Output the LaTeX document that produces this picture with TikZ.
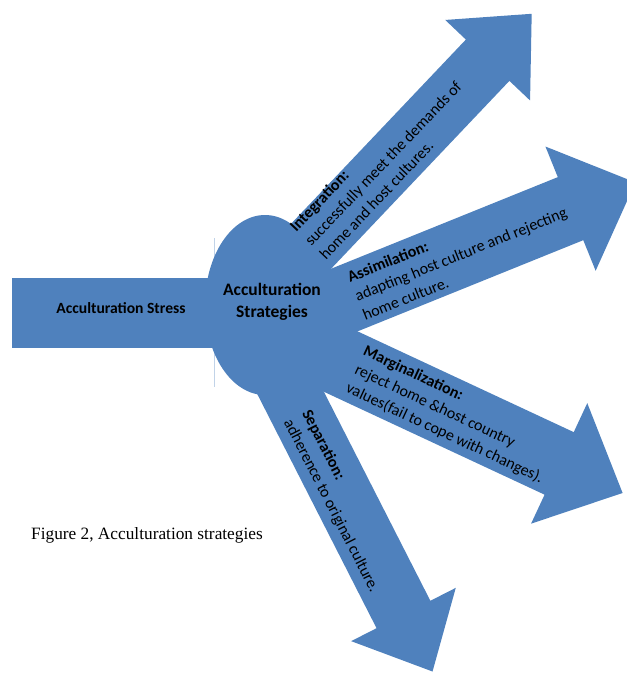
\documentclass[tikz,border=0pt]{standalone}
\usepackage{fontspec}
\setmainfont{Carlito}
\newfontfamily\captionfont{Liberation Serif}
\usetikzlibrary{shapes,calc}
\definecolor{strategy}{RGB}{79,129,189}
% arrow from a start coordinate: start, angle, shaft length, half width, head half width, head length
\newcommand{\strategyarrow}[6]{%
  \begin{scope}[shift={(#1)},rotate=#2]
    \fill[strategy] (0,-#4) -- (#3,-#4) -- (#3,-#5) -- (#3+#6,0) -- (#3,#5) -- (#3,#4) -- (0,#4) -- cycle;
  \end{scope}
}

\begin{document}
\begin{tikzpicture}[x=1pt,y=1pt,
    armtext/.style={anchor=west,inner sep=0pt,align=left,font=\fontsize{16}{20.5}\selectfont},
    hubtext/.style={inner sep=0pt,align=center,font=\fontsize{17.5}{21.5}\selectfont\bfseries}]
  \useasboundingbox (0,0) rectangle (627,-673);

  \coordinate (intS) at (259.8,-300.3);
  \coordinate (asmS) at (274.4,-328.3);
  \coordinate (marS) at (257,-322.5);
  \coordinate (sepS) at (249.7,-312.7);

  \draw[strategy!35,line width=0.6pt] (214,-238) -- (214,-387);

  \fill[strategy] (12,-278) rectangle (240,-348);
  \strategyarrow{intS}{46.5}{331}{30}{58.5}{64}
  \strategyarrow{asmS}{22}{319.4}{34}{67}{70}
  \strategyarrow{marS}{-25}{333.4}{34.5}{66.5}{70}
  \strategyarrow{sepS}{-63}{338.7}{30.2}{58.7}{64}
  \node[ellipse,fill=strategy,minimum width=120pt,minimum height=180pt,inner sep=0pt] (hub) at (265,-305) {};

  \node[inner sep=0pt,font=\fontsize{15.6}{18}\selectfont\bfseries] (stress) at (121,-308) {Acculturation Stress};
  \node[hubtext] (strategies) at (272,-302) {Acculturation\\Strategies};

  \node[armtext,rotate=46.5] (integration) at ($(intS)+(46.5:74)+(136.5:5)$)
    {\textbf{Integration:}\\successfully meet the demands of\\home and host cultures.};
  \node[armtext,rotate=22] (assimilation) at ($(asmS)+(22:87)+(112:-1)$)
    {\textbf{Assimilation:}\\adapting host culture and rejecting\\home culture.};
  \node[armtext,rotate=-25] (marginalization) at ($(marS)+(-25:109)+(65:-1)$)
    {\textbf{Marginalization:}\\reject home \&host country\\values(fail to cope with changes).};
  \node[armtext,rotate=-63] (separation) at ($(sepS)+(-63:113)+(27:-5)$)
    {\textbf{Separation:}\\adherence to original culture.};

  \node[anchor=base west,inner sep=0pt,font=\captionfont\fontsize{17.3}{20}\selectfont] (caption) at (31,-539)
    {Figure 2, Acculturation strategies};
\end{tikzpicture}
\end{document}
